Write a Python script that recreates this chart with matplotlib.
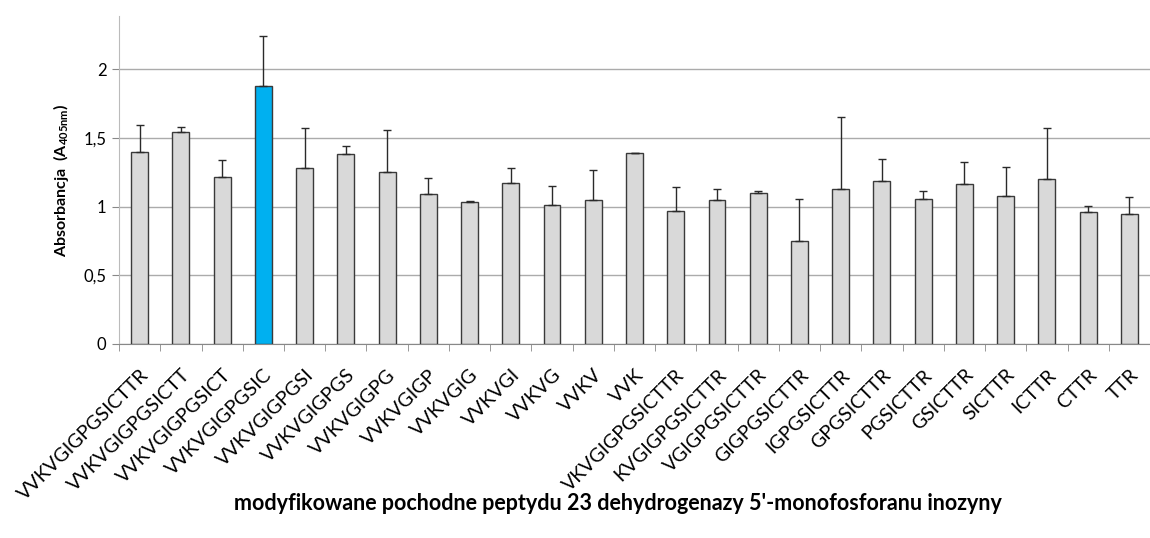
import matplotlib.pyplot as plt
import numpy as np

peptides = ["VVKVGIGPGSICTTR", "VVKVGIGPGSICTT", "VVKVGIGPGSICT", "VVKVGIGPGSIC",
            "VVKVGIGPGSI", "VVKVGIGPGS", "VVKVGIGPG", "VVKVGIGP", "VVKVGIG",
            "VVKVGI", "VVKVG", "VVKV", "VVK", "VKVGIGPGSICTTR", "KVGIGPGSICTTR",
            "VGIGPGSICTTR", "GIGPGSICTTR", "IGPGSICTTR", "GPGSICTTR", "PGSICTTR",
            "GSICTTR", "SICTTR", "ICTTR", "CTTR", "TTR"]
absorbance = [1.394, 1.544, 1.212, 1.874, 1.278, 1.384, 1.251, 1.088, 1.030,
              1.168, 1.013, 1.050, 1.391, 0.970, 1.045, 1.098, 0.747, 1.130,
              1.188, 1.055, 1.161, 1.079, 1.197, 0.958, 0.948]
upper = [1.590, 1.576, 1.340, 2.238, 1.571, 1.437, 1.554, 1.210, 1.038,
         1.278, 1.147, 1.263, 1.393, 1.139, 1.125, 1.115, 1.055, 1.649,
         1.348, 1.113, 1.326, 1.290, 1.571, 1.006, 1.069]
highlight = "VVKVGIGPGSIC"

plt.rcParams['font.family'] = ['Lato', 'DejaVu Sans']
plt.rcParams['mathtext.fontset'] = 'custom'
plt.rcParams['mathtext.rm'] = 'Lato'
plt.rcParams['mathtext.bf'] = 'Lato:bold'

x = np.arange(len(peptides))
err = np.array(upper) - np.array(absorbance)
colors = ['#00b0f0' if p == highlight else '#d9d9d9' for p in peptides]

fig = plt.figure(figsize=(11.5, 5.38), dpi=100)
ax = fig.add_axes([0.1035, 0.3606, 0.8965, 0.6094])

ax.bar(x, absorbance, width=0.41, color=colors, edgecolor='#3a3a3a',
       linewidth=1.0, zorder=3)
ax.errorbar(x, absorbance, yerr=[np.zeros_like(err), err], fmt='none',
            ecolor='#2a2a2a', elinewidth=1.0, capsize=3, capthick=1.0, zorder=4)

ax.set_xlim(-0.5, 24.24)
ax.set_ylim(0, 2.385)
ax.set_yticks([0, 0.5, 1, 1.5, 2])
ax.set_yticklabels(['0', '0,5', '1', '1,5', '2'], fontsize=12)
ax.yaxis.grid(True, color='#ababab', linewidth=1.0, zorder=0)

ax.set_xticks(x)
ax.set_xticklabels(peptides, rotation=45, ha='right', va='top',
                   rotation_mode='anchor', fontsize=14)
ax.set_xticks(np.arange(-0.5, 25, 1), minor=True)
ax.tick_params(axis='x', which='major', length=0, pad=16)
ax.tick_params(axis='x', which='minor', length=5, color='#888888')
ax.tick_params(axis='y', length=5, color='#888888', pad=4)

for s in ['top', 'right']:
    ax.spines[s].set_visible(False)
ax.spines['left'].set_color('#bbbbbb')
ax.spines['bottom'].set_color('#888888')

ax.set_ylabel(r'Absorbancja  (A$_{\mathbf{405nm}}$)', fontsize=11.5,
              fontweight='bold', labelpad=9)
fig.text(0.537, 0.065, "modyfikowane pochodne peptydu 23 dehydrogenazy 5'-monofosforanu inozyny",
         ha='center', va='center', fontsize=15.5, fontweight='bold')

fig.savefig('out.png', dpi=100)
